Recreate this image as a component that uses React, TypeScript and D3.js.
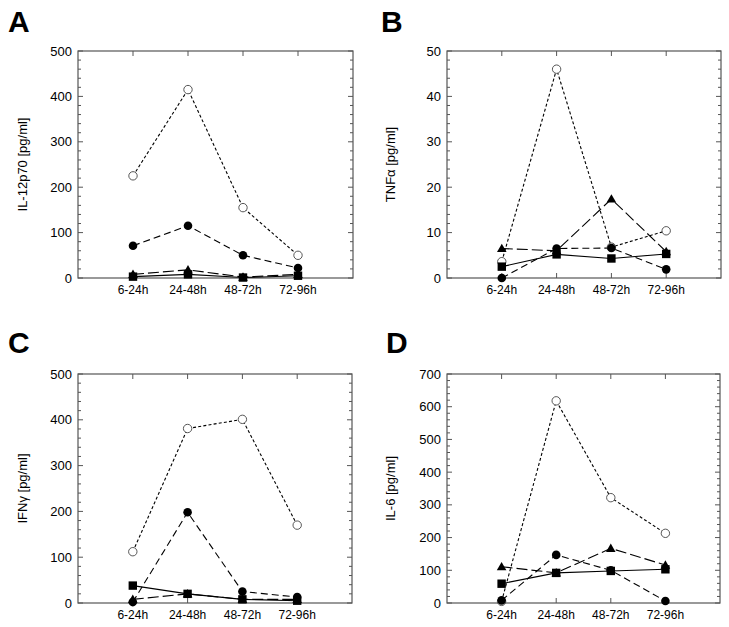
import React from "react";
import * as d3 from "d3";

const categories = ["6-24h", "24-48h", "48-72h", "72-96h"];

// Panel A: IL-12p70
const il12Open = [225, 415, 155, 50];
const il12Filled = [71, 115, 50, 22];
const il12Triangle = [8, 18, 2, 8];
const il12Square = [3, 8, 1, 5];

// Panel B: TNFα
const tnfOpen = [3.6, 46, 6.8, 10.4];
const tnfFilled = [0, 6.5, 6.6, 1.9];
const tnfTriangle = [6.5, 6, 17.4, 5.8];
const tnfSquare = [2.5, 5.2, 4.3, 5.3];

// Panel C: IFNγ
const ifnOpen = [112, 381, 401, 170];
const ifnFilled = [2, 198, 25, 13];
const ifnTriangle = [8, 20, 8, 8];
const ifnSquare = [38, 20, 8, 5];

// Panel D: IL-6
const il6Open = [5, 618, 322, 213];
const il6Filled = [8, 147, 100, 6];
const il6Triangle = [111, 92, 167, 116];
const il6Square = [59, 92, 98, 103];

const yMaxes = [500, 50, 500, 700];
const yMajorSteps = [100, 10, 100, 100];
const yLabels = ["IL-12p70 [pg/ml]", "TNF\u03B1 [pg/ml]", "IFN\u03B3 [pg/ml]", "IL-6 [pg/ml]"];
const panelLetters = ["A", "B", "C", "D"];

const FONT = "Arial, 'Liberation Sans', Helvetica, sans-serif";

type Layout = {
  x0: number; x1: number; y0: number; y1: number;
  letterX: number; letterY: number; ylabX: number;
};

const layouts: Layout[] = [
  { x0: 78, x1: 353, y0: 51, y1: 278, letterX: 8, letterY: 32, ylabX: 22 },
  { x0: 447, x1: 721, y0: 51, y1: 278, letterX: 381, letterY: 32, ylabX: 390 },
  { x0: 78, x1: 352, y0: 374, y1: 603, letterX: 8, letterY: 353, ylabX: 22 },
  { x0: 447, x1: 720, y0: 374, y1: 603, letterX: 386, letterY: 353, ylabX: 390 },
];

const panelData = [
  [il12Open, il12Filled, il12Triangle, il12Square],
  [tnfOpen, tnfFilled, tnfTriangle, tnfSquare],
  [ifnOpen, ifnFilled, ifnTriangle, ifnSquare],
  [il6Open, il6Filled, il6Triangle, il6Square],
];

const seriesKinds = ["open", "filled", "triangle", "square"] as const;
const dashes: Record<string, string | undefined> = {
  open: "3,2.2",
  filled: "7,4",
  triangle: "11,4",
  square: undefined,
};

function Marker({ kind, x, y }: { kind: string; x: number; y: number }) {
  if (kind === "open")
    return <circle cx={x} cy={y} r={4.2} fill="#fff" stroke="#444" strokeWidth={0.9} />;
  if (kind === "filled") return <circle cx={x} cy={y} r={4.3} fill="#000" />;
  if (kind === "triangle") {
    const s = 4.8;
    return (
      <path
        d={`M${x},${y - s} L${x + s},${y + s * 0.75} L${x - s},${y + s * 0.75} Z`}
        fill="#000"
      />
    );
  }
  return <rect x={x - 4.2} y={y - 4.2} width={8.4} height={8.4} fill="#000" />;
}

function Panel({ idx }: { idx: number }) {
  const L = layouts[idx];
  const yMax = yMaxes[idx];
  const step = yMajorSteps[idx];
  const x = d3.scaleLinear().domain([0, categories.length + 1]).range([L.x0, L.x1]);
  const y = d3.scaleLinear().domain([0, yMax]).range([L.y1, L.y0]);
  const majors = d3.range(0, yMax + step / 2, step);
  const minors = d3.range(0, yMax + 1e-9, step / 5).filter((v) => Math.abs(v / step - Math.round(v / step)) > 1e-6);
  const line = d3
    .line<number>()
    .x((_, i) => x(i + 1))
    .y((d) => y(d));
  const data = panelData[idx];
  const order = [0, 2, 1, 3];
  const axisColor = "#555";
  const cy = (L.y0 + L.y1) / 2;
  return (
    <g>
      <text x={L.letterX} y={L.letterY} fontFamily={FONT} fontWeight="bold" fontSize={30} fill="#000">
        {panelLetters[idx]}
      </text>
      <text
        transform={`translate(${L.ylabX},${cy}) rotate(-90)`}
        textAnchor="middle"
        dominantBaseline="central"
        fontFamily={FONT}
        fontSize={13}
        fill="#000"
      >
        {yLabels[idx]}
      </text>
      {/* y ticks */}
      {majors.map((v) => (
        <g key={"M" + v}>
          <line x1={L.x0} x2={L.x0 + 5} y1={y(v)} y2={y(v)} stroke={axisColor} strokeWidth={1} />
          <line x1={L.x1} x2={L.x1 - 5} y1={y(v)} y2={y(v)} stroke={axisColor} strokeWidth={1} />
          <text
            x={L.x0 - 6}
            y={y(v)}
            textAnchor="end"
            dominantBaseline="central"
            fontFamily={FONT}
            fontSize={13}
            fill="#000"
          >
            {v}
          </text>
        </g>
      ))}
      {minors.map((v) => (
        <g key={"m" + v}>
          <line x1={L.x0} x2={L.x0 + 3} y1={y(v)} y2={y(v)} stroke={axisColor} strokeWidth={1} />
          <line x1={L.x1} x2={L.x1 - 3} y1={y(v)} y2={y(v)} stroke={axisColor} strokeWidth={1} />
        </g>
      ))}
      {/* x ticks */}
      {categories.map((c, i) => (
        <g key={c}>
          <line x1={x(i + 1)} x2={x(i + 1)} y1={L.y1} y2={L.y1 - 5} stroke={axisColor} strokeWidth={1} />
          <line x1={x(i + 1)} x2={x(i + 1)} y1={L.y0} y2={L.y0 + 5} stroke={axisColor} strokeWidth={1} />
          <text
            x={x(i + 1)}
            y={L.y1 + 16}
            textAnchor="middle"
            fontFamily={FONT}
            fontSize={12}
            fill="#000"
          >
            {c}
          </text>
        </g>
      ))}
      <rect
        x={L.x0}
        y={L.y0}
        width={L.x1 - L.x0}
        height={L.y1 - L.y0}
        fill="none"
        stroke={axisColor}
        strokeWidth={1.2}
      />
      {/* lines */}
      {order.map((s) => (
        <path
          key={"l" + s}
          d={line(data[s]) || ""}
          fill="none"
          stroke="#000"
          strokeWidth={1.1}
          strokeDasharray={dashes[seriesKinds[s]]}
        />
      ))}
      {/* markers */}
      {order.map((s) =>
        data[s].map((v, i) => (
          <Marker key={"p" + s + "-" + i} kind={seriesKinds[s]} x={x(i + 1)} y={y(v)} />
        ))
      )}
    </g>
  );
}

export default function App() {
  return (
    <svg
      width={729}
      height={627}
      viewBox="0 0 729 627"
      style={{ position: "absolute", left: 0, top: 0, background: "#fff" }}
    >
      <rect x={0} y={0} width={729} height={627} fill="#fff" />
      {[0, 1, 2, 3].map((i) => (
        <Panel key={i} idx={i} />
      ))}
    </svg>
  );
}
